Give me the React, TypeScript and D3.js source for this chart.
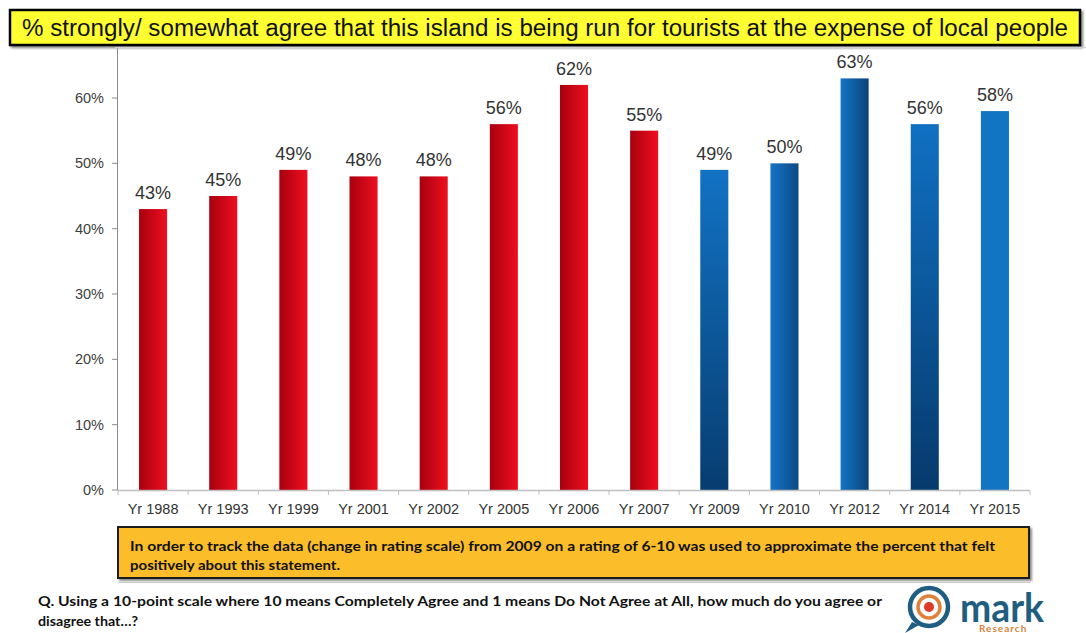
import React from "react";
import * as d3 from "d3";

const categories = ["Yr 1988", "Yr 1993", "Yr 1999", "Yr 2001", "Yr 2002", "Yr 2005", "Yr 2006", "Yr 2007", "Yr 2009", "Yr 2010", "Yr 2012", "Yr 2014", "Yr 2015"];
const values = [43, 45, 49, 48, 48, 56, 62, 55, 49, 50, 63, 56, 58];
const yTicks = [0, 10, 20, 30, 40, 50, 60];

const titleText = "% strongly/ somewhat agree that this island is being run for tourists at the expense of local people";
const noteLines = [
  "In order to track the data (change in rating scale) from 2009 on a rating of 6-10 was used to approximate the percent that felt",
  "positively about this statement.",
];
const noteWidths = [865, 210];
const questionLines = [
  "Q.  Using a 10-point scale where 10 means Completely Agree and 1 means Do Not Agree at All, how much do you agree or",
  "disagree that…?",
];
const questionWidths = [844, 100];

// gradient style per bar (styling only)
type Grad = { dir: "h" | "v"; from: string; to: string };
const red: Grad = { dir: "h", from: "#a8000f", to: "#ee0f1f" };
const fills: Grad[] = [
  red, red, red, red, red, red, red, red,
  { dir: "v", from: "#1272c4", to: "#073d70" },
  { dir: "h", from: "#1573c6", to: "#0c4a86" },
  { dir: "h", from: "#1474c6", to: "#0a4479" },
  { dir: "v", from: "#1070c2", to: "#063a6c" },
  { dir: "h", from: "#1274c2", to: "#1274c2" },
];

export default function App() {
  const W = 1086, H = 633;
  const x = d3.scaleBand<string>().domain(categories).range([118, 1030]).paddingInner(0.6).paddingOuter(0.3);
  const y = d3.scaleLinear().domain([0, 60]).range([490, 98]);
  const axisFont = "'Liberation Sans', Arial, sans-serif";
  const noteFont = "Lato, 'Open Sans', sans-serif";
  const step = x.step();
  const tickXs = d3.range(categories.length + 1).map((i) => 118 + i * step);

  return (
    <svg width={W} height={H} style={{ position: "absolute", left: 0, top: 0, background: "#fff" }}>
      <defs>
        {fills.map((g, i) => (
          <linearGradient key={i} id={`g${i}`} x1="0" y1="0" x2={g.dir === "h" ? "1" : "0"} y2={g.dir === "v" ? "1" : "0"}>
            <stop offset="0" stopColor={g.from} />
            <stop offset="1" stopColor={g.to} />
          </linearGradient>
        ))}
        <filter id="shadow" x="-5%" y="-20%" width="110%" height="150%">
          <feDropShadow dx="2" dy="2" stdDeviation="1.2" floodColor="#000" floodOpacity="0.45" />
        </filter>
      </defs>

      {/* title */}
      <rect x={10} y={10} width={1070} height={35} fill="#ffff33" stroke="#000" strokeWidth={2.5} filter="url(#shadow)" />
      <text x={22} y={36} fontFamily={axisFont} fontSize={23} fill="#111" textLength={1046} lengthAdjust="spacingAndGlyphs">{titleText}</text>
      <line x1={115} x2={1086} y1={47.5} y2={47.5} stroke="#d0d0d0" strokeWidth={1} />

      {/* y axis */}
      <line x1={117.5} x2={117.5} y1={y(0)} y2={y(67.6)} stroke="#8c8c8c" strokeWidth={1} />
      {yTicks.map((t) => (
        <g key={t}>
          <line x1={112} x2={117.5} y1={y(t)} y2={y(t)} stroke="#8c8c8c" />
          <text x={104} y={y(t) + 5} textAnchor="end" fontFamily={axisFont} fontSize={14.5} fill="#404040">{`${t}%`}</text>
        </g>
      ))}

      {/* bars */}
      {categories.map((c, i) => (
        <g key={c}>
          <rect x={x(c)} y={y(values[i])} width={x.bandwidth()} height={y(0) - y(values[i])} fill={`url(#g${i})`} />
          <text x={(x(c) as number) + x.bandwidth() / 2} y={y(values[i]) - 10} textAnchor="middle" fontFamily={axisFont} fontSize={18} fill="#333">{`${values[i]}%`}</text>
          <text x={(x(c) as number) + x.bandwidth() / 2} y={514} textAnchor="middle" fontFamily={axisFont} fontSize={14.5} fill="#333">{c}</text>
        </g>
      ))}

      {/* x axis */}
      <line x1={117.5} x2={1030} y1={490.5} y2={490.5} stroke="#bfbfbf" strokeWidth={1.5} />
      {tickXs.map((tx, i) => (
        <line key={i} x1={tx} x2={tx} y1={490.5} y2={495} stroke="#bfbfbf" strokeWidth={1} />
      ))}

      {/* note box */}
      <rect x={118} y={527} width={911} height={51} fill="#fbbd2c" stroke="#1a1a1a" strokeWidth={2} filter="url(#shadow)" />
      {noteLines.map((l, i) => (
        <text key={i} x={130} y={551 + i * 18.5} fontFamily={noteFont} fontWeight={700} fontSize={14} fill="#111"
          textLength={noteWidths[i]} lengthAdjust="spacingAndGlyphs">{l}</text>
      ))}
      <line x1={118} x2={1030} y1={582.5} y2={582.5} stroke="#d0d0d0" strokeWidth={1} />

      {/* question */}
      {questionLines.map((l, i) => (
        <text key={i} x={38} y={606 + i * 20} fontFamily={noteFont} fontWeight={700} fontSize={14} fill="#111"
          textLength={questionWidths[i]} lengthAdjust="spacingAndGlyphs">{l}</text>
      ))}

      {/* logo */}
      <g>
        <path d="M 912 622 L 905 633 L 919 625" fill="#1f5e80" />
        <circle cx={929} cy={607} r={19} fill="none" stroke="#1f5e80" strokeWidth={4.5} />
        <circle cx={929} cy={607} r={11} fill="none" stroke="#e0803a" strokeWidth={3.5} />
        <circle cx={929} cy={607} r={5} fill="#e03a2a" />
        <text x={960} y={622} fontFamily={noteFont} fontWeight={700} fontSize={40} fill="#1f5e80" textLength={84} lengthAdjust="spacingAndGlyphs">mark</text>
        <text x={979} y={632} fontFamily={noteFont} fontWeight={700} fontSize={10} fill="#d8843a" letterSpacing={1}>Research</text>
      </g>
    </svg>
  );
}
